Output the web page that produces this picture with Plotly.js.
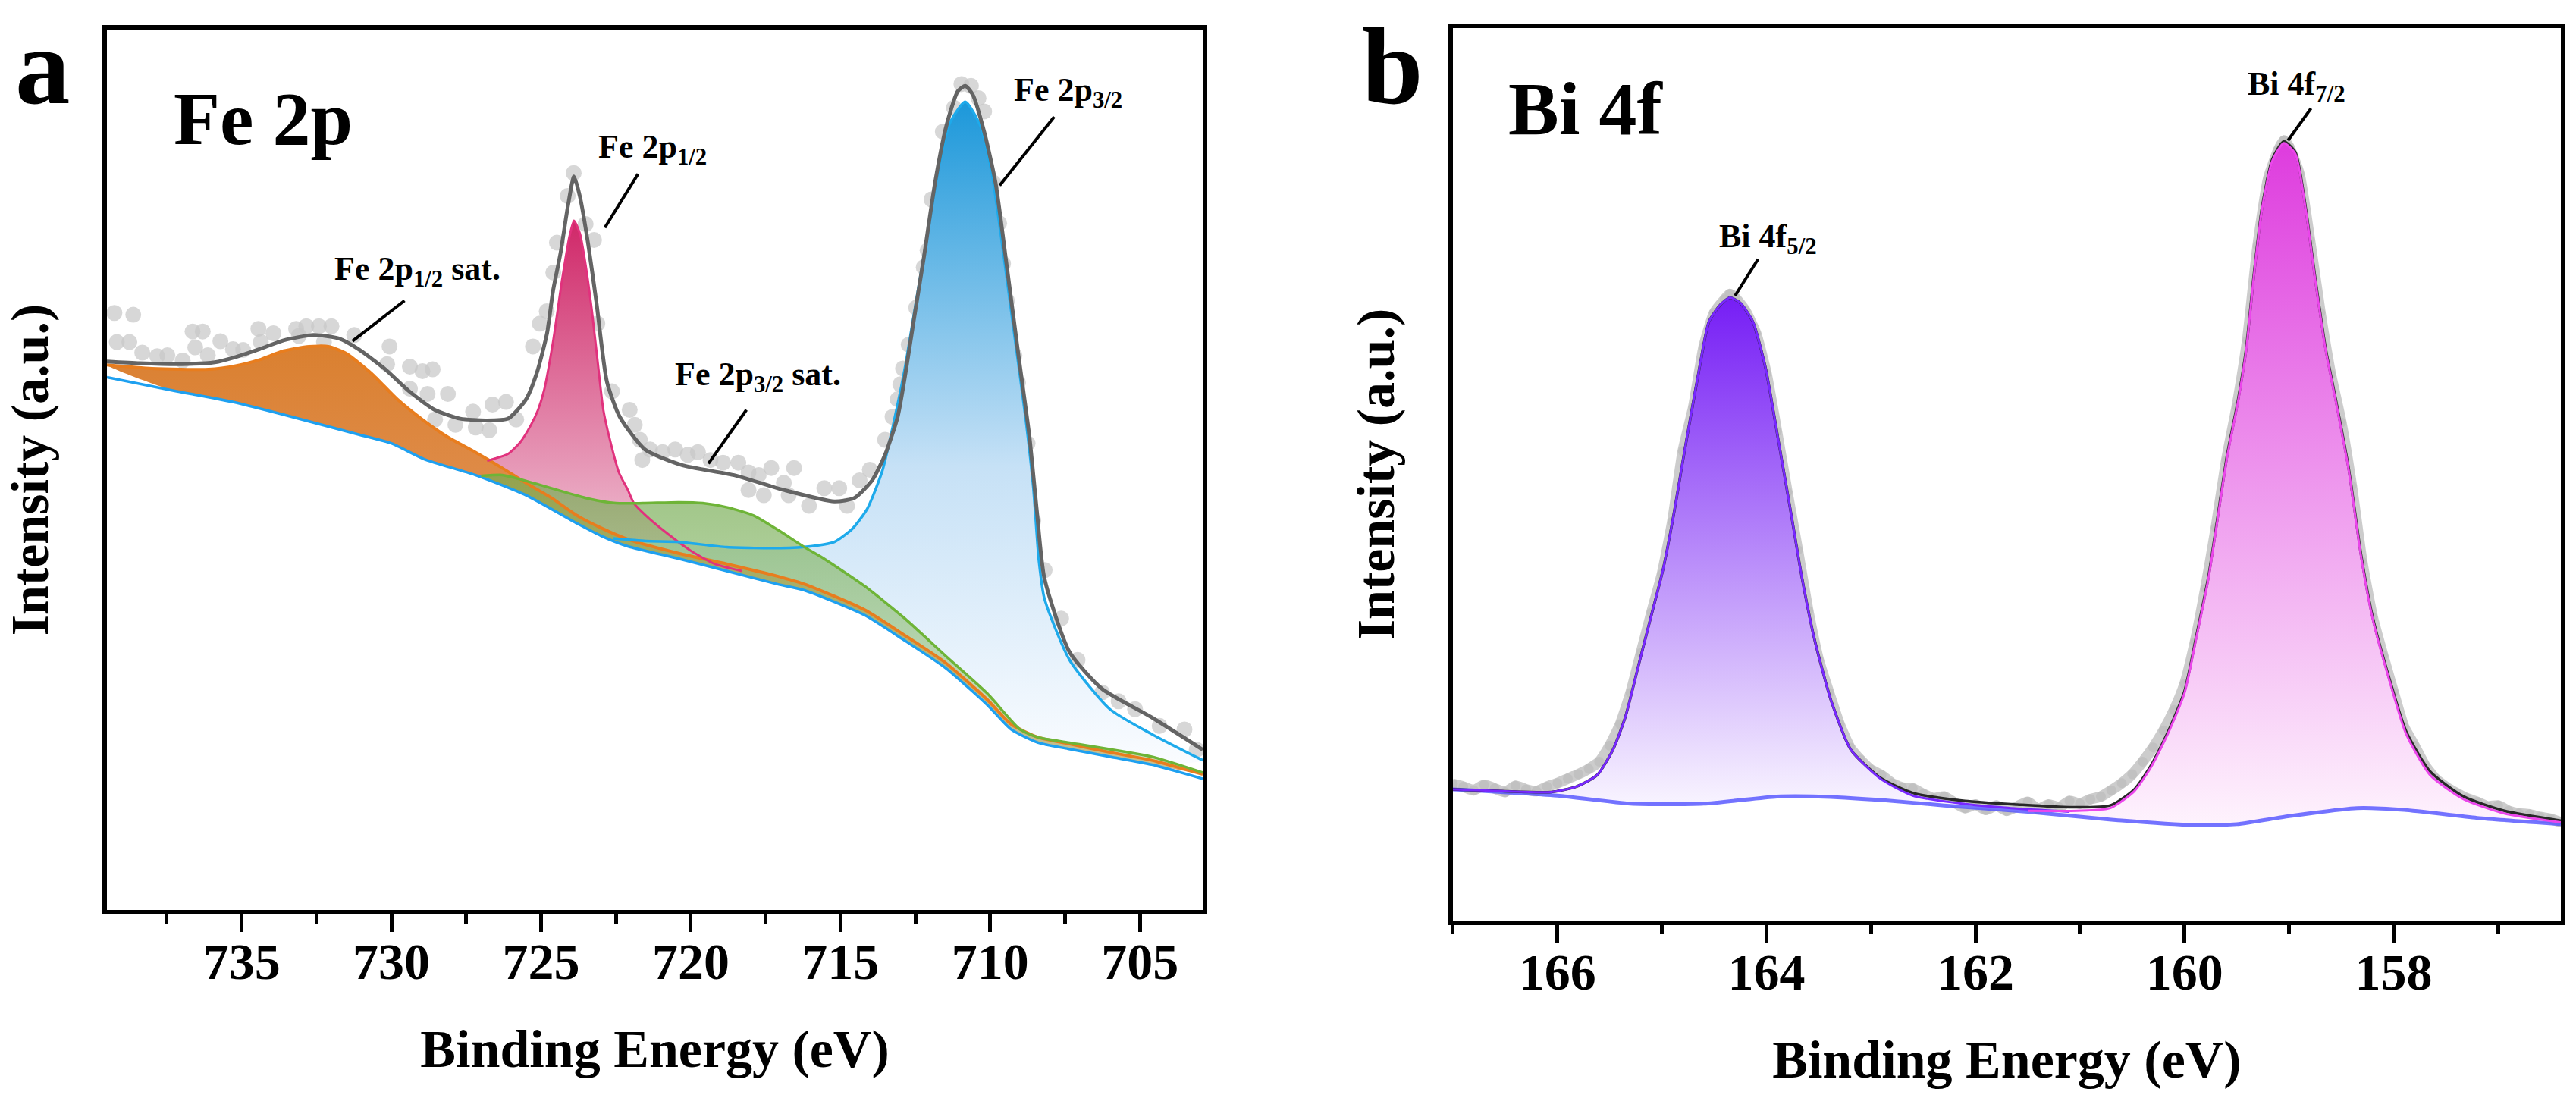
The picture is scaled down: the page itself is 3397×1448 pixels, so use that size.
<!DOCTYPE html>
<html>
<head>
<meta charset="utf-8">
<script src="https://cdn.plot.ly/plotly-3.0.1.min.js"></script>
<style>html,body{margin:0;padding:0;background:#fff;}#chart{width:3397px;height:1448px;}</style>
</head>
<body>
<div id="chart"></div>
<script>
// ---------- Panel a : Fe 2p (binding energy eV, intensity a.u.) ----------
const feBaseE = [739.5, 737.3, 735.3, 733.2, 731.1, 730.0, 728.9, 727.2, 725.5, 723.8, 723.0, 722.1, 720.4, 718.8, 717.1, 716.2, 714.2, 712.9, 711.5, 710.1, 709.3, 708.4, 707.4, 706.0, 704.6, 702.9];
const feBaseI = [60.5, 59.0, 57.7, 55.9, 54.0, 53.0, 51.2, 49.4, 47.1, 43.9, 42.5, 41.3, 39.9, 38.5, 37.0, 36.3, 33.5, 30.7, 27.5, 23.3, 20.5, 19.0, 18.3, 17.4, 16.5, 14.9];

const feSat12E = [739.5, 738.0, 736.1, 735.2, 734.4, 733.6, 732.75, 732.1, 731.5, 730.65, 729.8, 728.96, 728.11, 727.2, 726.3, 725.5, 724.65, 723.8, 723.0, 722.1, 720.4, 718.8, 717.1, 716.2, 714.2, 712.9, 711.5, 710.1, 709.3, 708.4, 707.4, 706.0, 704.6, 702.9];
const feSat12I = [61.9, 61.5, 61.4, 61.8, 62.5, 63.5, 64.0, 64.0, 63.2, 60.9, 58.0, 55.7, 53.7, 52.0, 50.2, 48.5, 46.8, 44.8, 43.4, 42.1, 40.5, 39.3, 37.9, 37.0, 34.1, 31.3, 28.1, 23.9, 21.1, 19.6, 18.9, 17.9, 17.0, 15.4];

const fe12E = [726.8, 726.1, 725.7, 725.35, 725.1, 724.9, 724.6, 724.3, 724.05, 723.9, 723.7, 723.5, 723.3, 723.1, 722.92, 722.7, 722.4, 722.1, 721.9, 721.5, 720.8, 720.0, 719.2, 718.3];
const fe12I = [51.0, 51.8, 53.1, 55.0, 56.8, 59.0, 64.5, 71.5, 76.5, 78.3, 76.8, 73.0, 68.0, 62.0, 56.8, 53.4, 49.7, 47.7, 46.2, 44.8, 42.8, 40.8, 39.3, 38.5];

const feSat32E = [727.0, 726.3, 725.9, 724.65, 723.4, 722.5, 721.6, 720.4, 719.6, 718.75, 717.9, 717.06, 716.2, 715.6, 714.2, 712.85, 711.5, 710.1, 709.0, 708.4, 707.35, 704.6, 702.9];
const feSat32I = [49.3, 49.4, 49.1, 47.9, 46.7, 46.2, 46.2, 46.3, 46.2, 45.7, 44.8, 43.1, 41.2, 40.0, 36.8, 33.1, 28.9, 24.6, 20.5, 19.6, 19.0, 17.4, 15.6];

const fe32E = [722.6, 721.5, 720.4, 718.8, 717.0, 716.0, 715.2, 714.6, 714.1, 713.6, 713.2, 712.85, 712.47, 712.09, 711.71, 711.33, 710.83, 710.33, 709.95, 709.57, 709.19, 708.81, 708.56, 708.37, 708.19, 707.35, 706.0, 704.62, 702.9];
const fe32I = [42.2, 41.9, 41.8, 41.2, 41.1, 41.3, 41.8, 43.3, 45.6, 49.9, 55.7, 61.5, 69.2, 76.8, 84.5, 89.5, 91.8, 89.1, 83.8, 74.9, 65.3, 55.7, 48.0, 39.6, 35.4, 28.4, 22.8, 20.0, 17.0];

const feFitE = [739.5, 738.4, 737.0, 735.9, 735.2, 734.4, 733.6, 732.6, 731.75, 731.1, 730.2, 729.4, 728.55, 727.7, 726.85, 726.1, 725.5, 725.15, 724.8, 724.6, 724.35, 724.1, 723.9, 723.7, 723.42, 723.15, 722.8, 722.37, 721.53, 720.27, 718.58, 716.89, 715.2, 714.53, 713.94, 713.51, 713.09, 712.85, 712.55, 712.22, 711.84, 711.46, 711.08, 710.83, 710.58, 710.2, 709.82, 709.44, 709.07, 708.69, 708.44, 708.19, 707.35, 706.26, 704.62, 702.9];
const feFitI = [62.3, 62.1, 62.0, 62.2, 62.8, 63.7, 64.7, 65.3, 64.9, 63.7, 61.4, 58.9, 56.8, 55.8, 55.6, 55.8, 58.0, 60.9, 65.5, 70.3, 74.6, 80.0, 83.3, 81.0, 75.5, 69.0, 60.0, 56.0, 52.3, 50.5, 49.4, 47.7, 46.4, 46.8, 48.8, 51.7, 56.0, 60.5, 67.0, 74.0, 82.6, 89.1, 93.0, 93.6, 92.6, 88.4, 82.6, 73.0, 63.4, 53.8, 45.3, 37.7, 29.3, 25.1, 21.9, 18.2];

const feRawE = [739.25, 738.62, 739.17, 738.75, 738.32, 737.82, 737.48, 736.97, 736.64, 736.30, 736.55, 736.13, 735.71, 735.29, 734.95, 734.44, 733.94, 734.36, 733.18, 732.84, 732.42, 732.00, 733.09, 732.25, 731.24, 730.06, 730.14, 729.38, 728.96, 728.62, 728.11, 728.79, 729.38, 727.27, 727.86, 728.54, 727.18, 726.62, 726.17, 726.73, 725.83, 725.27, 725.04, 724.81, 724.59, 724.47, 723.91, 724.11, 723.51, 723.23, 723.12, 722.63, 722.04, 721.87, 721.70, 721.62, 721.36, 720.94, 720.52, 720.10, 719.76, 719.34, 718.92, 718.41, 718.07, 717.73, 717.31, 716.55, 718.07, 717.56, 716.89, 716.73, 716.05, 715.54, 715.04, 714.78, 714.36, 714.02, 713.51, 713.26, 713.09, 713.00, 712.91, 712.72, 712.47, 712.22, 712.09, 711.96, 711.58, 711.21, 710.96, 710.64, 710.39, 710.20, 709.89, 709.70, 709.57, 709.44, 709.19, 709.07, 708.75, 708.88, 708.56, 708.73, 708.18, 707.63, 707.08, 706.26, 705.71, 705.16, 705.99, 704.34, 703.51, 703.10];
const feRawI = [67.8, 67.6, 64.5, 64.5, 63.3, 62.9, 63.0, 62.4, 65.7, 65.7, 63.9, 63.0, 64.6, 63.7, 63.6, 66.0, 65.5, 64.5, 66.0, 66.3, 66.3, 66.3, 65.2, 64.5, 65.3, 64.0, 62.0, 61.7, 61.2, 61.4, 58.6, 58.6, 59.2, 56.6, 55.1, 55.7, 54.8, 57.4, 57.7, 54.5, 55.7, 64.0, 66.6, 68.0, 72.4, 75.8, 83.7, 81.1, 77.9, 76.1, 66.6, 58.9, 56.8, 55.1, 53.4, 51.1, 52.3, 52.0, 52.3, 51.7, 52.0, 51.1, 50.8, 50.8, 49.7, 49.4, 50.2, 50.2, 47.7, 47.1, 48.5, 47.1, 45.9, 47.9, 47.9, 45.9, 48.8, 50.0, 53.4, 56.0, 58.0, 59.7, 61.5, 64.2, 68.4, 73.0, 74.9, 80.7, 88.4, 91.1, 93.8, 93.6, 92.2, 90.7, 82.6, 78.0, 73.4, 69.2, 63.0, 59.9, 53.0, 46.1, 44.2, 46.1, 38.6, 33.1, 28.4, 24.7, 23.7, 22.8, 21.9, 20.9, 20.5, 18.2];

// ---------- Panel b : Bi 4f ----------
const biBaseE = [167.0, 166.0, 165.3, 164.6, 163.9, 163.5, 162.9, 162.3, 161.5, 160.7, 159.9, 159.5, 159.0, 158.35, 157.9, 157.2, 156.4];
const biBaseI = [14.7, 14.0, 13.1, 13.1, 13.9, 13.9, 13.5, 12.9, 12.2, 11.3, 10.7, 10.8, 11.7, 12.6, 12.4, 11.5, 10.8];

const bi52E = [167.0, 166.53, 166.06, 165.82, 165.62, 165.47, 165.35, 165.23, 165.11, 164.99, 164.89, 164.80, 164.72, 164.64, 164.55, 164.44, 164.35, 164.25, 164.13, 164.01, 163.89, 163.76, 163.66, 163.54, 163.38, 163.19, 162.91, 162.60, 162.13, 161.66, 161.10];
const bi52I = [14.7, 14.5, 14.4, 15.0, 16.3, 19.1, 22.8, 28.3, 33.8, 39.3, 45.3, 51.5, 56.8, 62.0, 67.1, 69.0, 69.8, 69.2, 67.1, 62.0, 54.1, 45.3, 38.4, 31.5, 24.6, 19.1, 15.9, 14.0, 13.1, 12.6, 12.2];

const bi72E = [161.5, 161.03, 160.71, 160.48, 160.32, 160.16, 160.0, 159.89, 159.77, 159.65, 159.59, 159.49, 159.41, 159.34, 159.26, 159.16, 159.05, 158.94, 158.84, 158.75, 158.65, 158.55, 158.43, 158.31, 158.2, 158.04, 157.88, 157.65, 157.33, 156.94, 156.4];
const bi72I = [12.3, 12.3, 12.6, 14.5, 17.2, 20.9, 25.5, 31.5, 38.4, 47.6, 52.1, 58.0, 63.9, 71.8, 79.6, 85.1, 87.1, 85.9, 79.6, 71.8, 63.9, 58.0, 50.5, 40.7, 33.8, 26.9, 20.9, 16.3, 13.6, 12.0, 11.0];

const biFitE = [167.0, 166.53, 166.06, 165.82, 165.62, 165.47, 165.35, 165.23, 165.11, 164.99, 164.89, 164.80, 164.72, 164.64, 164.55, 164.44, 164.35, 164.25, 164.13, 164.01, 163.89, 163.76, 163.66, 163.54, 163.38, 163.19, 162.91, 162.6, 162.1, 161.6, 161.1, 160.71, 160.48, 160.32, 160.16, 160.0, 159.89, 159.77, 159.65, 159.59, 159.49, 159.41, 159.34, 159.26, 159.16, 159.05, 158.94, 158.84, 158.75, 158.65, 158.55, 158.43, 158.31, 158.2, 158.04, 157.88, 157.65, 157.33, 156.94, 156.4];
const biFitI = [14.7, 14.5, 14.4, 15.0, 16.3, 19.1, 22.8, 28.3, 33.8, 39.3, 45.3, 51.5, 56.8, 62.0, 67.1, 69.0, 69.8, 69.2, 67.1, 62.0, 54.1, 45.3, 38.4, 31.5, 24.6, 19.1, 16.0, 14.3, 13.4, 13.0, 12.7, 12.9, 14.7, 17.4, 21.1, 25.7, 31.7, 38.6, 47.8, 52.3, 58.2, 64.1, 72.0, 79.8, 85.3, 87.3, 86.1, 79.8, 72.0, 64.1, 58.2, 50.7, 40.9, 34.0, 27.1, 21.2, 16.7, 13.9, 12.3, 11.2];

const biRawE = [167.0, 166.9, 166.8, 166.7, 166.6, 166.5, 166.4, 166.3, 166.2, 166.1, 166.0, 165.9, 165.8, 165.7, 165.6, 165.5, 165.4, 165.3, 165.2, 165.1, 165.0, 164.9, 164.8, 164.7, 164.6, 164.5, 164.4, 164.35, 164.3, 164.2, 164.1, 164.0, 163.9, 163.8, 163.7, 163.6, 163.5, 163.4, 163.3, 163.2, 163.1, 163.0, 162.9, 162.8, 162.7, 162.6, 162.5, 162.4, 162.3, 162.2, 162.1, 162.0, 161.9, 161.8, 161.7, 161.6, 161.5, 161.4, 161.3, 161.2, 161.1, 161.0, 160.9, 160.8, 160.7, 160.6, 160.5, 160.4, 160.3, 160.2, 160.1, 160.0, 159.9, 159.8, 159.7, 159.6, 159.5, 159.4, 159.3, 159.2, 159.1, 159.05, 159.0, 158.9, 158.8, 158.7, 158.6, 158.5, 158.4, 158.3, 158.2, 158.1, 158.0, 157.9, 157.8, 157.7, 157.6, 157.5, 157.4, 157.3, 157.2, 157.1, 157.0, 156.9, 156.8, 156.7, 156.6, 156.5, 156.4];
const biRawI = [15.3, 15.0, 14.6, 15.2, 14.8, 14.4, 15.1, 14.7, 14.5, 15.0, 15.4, 15.9, 16.4, 17.0, 17.8, 19.6, 22.0, 25.5, 30.0, 34.5, 38.8, 44.7, 52.6, 57.5, 64.3, 68.1, 69.6, 70.2, 69.8, 68.3, 65.8, 61.3, 54.8, 48.0, 41.5, 34.7, 29.2, 25.5, 22.0, 19.4, 18.0, 16.9, 16.3, 15.4, 14.9, 14.8, 14.2, 13.7, 13.9, 13.2, 12.6, 13.0, 12.4, 12.9, 12.3, 12.8, 13.3, 12.5, 13.0, 12.7, 13.4, 13.1, 13.6, 13.9, 14.6, 15.4, 16.4, 17.8, 19.4, 21.3, 23.6, 26.5, 31.2, 37.2, 44.0, 51.6, 57.6, 65.0, 75.6, 83.1, 86.4, 87.4, 86.7, 83.6, 76.2, 68.1, 61.2, 55.8, 48.7, 40.2, 34.0, 29.7, 25.6, 21.7, 19.6, 17.4, 15.9, 15.0, 14.3, 13.7, 13.3, 12.8, 12.9, 12.3, 12.0, 11.9, 11.6, 11.4, 11.0];

// ---------- text ----------
const xTitle = 'Binding Energy (eV)';
const yTitle = 'Intensity (a.u.)';

// ---------- helpers ----------
const FONT = 'Liberation Serif, Times New Roman, serif';
function polygon(cx, cy, bx, by) {
  const hi = Math.max(cx[0], cx[cx.length - 1]);
  const lo = Math.min(cx[0], cx[cx.length - 1]);
  const px = cx.slice(), py = cy.slice();
  for (let i = bx.length - 1; i >= 0; i--) {
    if (bx[i] > lo && bx[i] < hi) { px.push(bx[i]); py.push(by[i]); }
  }
  px.push(cx[0]); py.push(cy[0]);
  return {x: px, y: py};
}
function fillTrace(cx, cy, bx, by, scale, xa, ya) {
  const p = polygon(cx, cy, bx, by);
  return {x: p.x, y: p.y, xaxis: xa, yaxis: ya, type: 'scatter', mode: 'lines',
    fill: 'toself', line: {width: 0, shape: 'spline', smoothing: 0.6},
    fillgradient: {type: 'vertical', colorscale: scale}, hoverinfo: 'skip'};
}
function lineTrace(x, y, color, width, xa, ya) {
  return {x: x, y: y, xaxis: xa, yaxis: ya, type: 'scatter', mode: 'lines',
    line: {color: color, width: width, shape: 'spline', smoothing: 0.6}, hoverinfo: 'skip'};
}

const traces = [
  // panel a
  {x: feRawE, y: feRawI, type: 'scatter', mode: 'markers', xaxis: 'x', yaxis: 'y',
   marker: {size: 21, color: 'rgba(200,200,200,0.72)', line: {width: 0}}},
  fillTrace(fe12E, fe12I, feBaseE, feBaseI, [[0, 'rgb(240,200,216)'], [1, 'rgb(208,40,105)']], 'x', 'y'),
  fillTrace(fe32E, fe32I, feBaseE, feBaseI, [[0, 'rgb(250,252,255)'], [0.45, 'rgb(198,225,246)'], [1, 'rgb(28,152,218)']], 'x', 'y'),
  fillTrace(feSat12E, feSat12I, feBaseE, feBaseI, [[0, 'rgb(228,160,115)'], [0.6, 'rgb(224,142,78)'], [1, 'rgb(218,128,48)']], 'x', 'y'),
  fillTrace(feSat32E, feSat32I, feBaseE, feBaseI, [[0, 'rgba(180,212,165,0.6)'], [1, 'rgba(118,172,82,0.72)']], 'x', 'y'),
  lineTrace(feBaseE, feBaseI, 'rgb(30,160,240)', 3.5, 'x', 'y'),
  lineTrace(feSat12E, feSat12I, 'rgb(232,125,30)', 4, 'x', 'y'),
  lineTrace(fe12E, fe12I, 'rgb(225,50,125)', 3, 'x', 'y'),
  lineTrace(fe32E, fe32I, 'rgb(30,170,235)', 3.5, 'x', 'y'),
  lineTrace(feSat32E, feSat32I, 'rgb(110,180,55)', 3.5, 'x', 'y'),
  lineTrace(feFitE, feFitI, 'rgb(100,100,100)', 5, 'x', 'y'),
  // panel b
  {x: biRawE, y: biRawI, type: 'scatter', mode: 'lines+markers', xaxis: 'x2', yaxis: 'y2',
   line: {color: 'rgba(195,195,195,0.85)', width: 14, shape: 'spline', smoothing: 0.5},
   marker: {size: 13, color: 'rgba(190,190,190,0.8)'}},
  fillTrace(bi52E, bi52I, biBaseE, biBaseI, [[0, 'rgb(250,247,255)'], [1, 'rgb(118,30,245)']], 'x2', 'y2'),
  fillTrace(bi72E, bi72I, biBaseE, biBaseI, [[0, 'rgb(254,243,253)'], [1, 'rgb(222,60,222)']], 'x2', 'y2'),
  lineTrace(biBaseE, biBaseI, 'rgba(80,80,255,0.8)', 5, 'x2', 'y2'),
  lineTrace(biFitE, biFitI, 'rgb(40,40,40)', 3.5, 'x2', 'y2'),
  lineTrace(bi52E, bi52I, 'rgb(120,40,255)', 3, 'x2', 'y2'),
  lineTrace(bi72E, bi72I, 'rgb(235,70,235)', 3, 'x2', 'y2')
];

const tickFont = {family: FONT, size: 68, weight: 'bold', color: 'black'};
const titleFont = {family: FONT, size: 70, weight: 'bold', color: 'black'};
function xAxis(domain, range, dtick, tick0, minorDtick) {
  return {domain: domain, range: range, autorange: false, showline: true, mirror: true,
    linewidth: 6, linecolor: 'black', ticks: 'outside', ticklen: 23, tickwidth: 5, tickcolor: 'black',
    dtick: dtick, tick0: tick0, tickfont: tickFont, showgrid: false, zeroline: false,
    ticklabelstandoff: -20,
    minor: {ticks: 'outside', ticklen: 12, tickwidth: 5, tickcolor: 'black', dtick: minorDtick, tick0: tick0, showgrid: false},
    title: {text: xTitle, font: titleFont, standoff: 55}};
}
function yAxis(domain, anchor) {
  return {domain: domain, range: [0, 100], autorange: false, showline: true, mirror: true,
    linewidth: 6, linecolor: 'black', ticks: '', showticklabels: false, showgrid: false, zeroline: false,
    anchor: anchor, title: {text: yTitle, font: titleFont, standoff: 50}};
}

const labFont = {family: FONT, size: 44, weight: 'bold', color: 'black'};
function peakLabel(text, x, y, xr, yr) {
  return {text: text, x: x, y: y, xref: xr, yref: yr, xanchor: 'left', yanchor: 'middle',
    showarrow: false, font: labFont};
}
function pointer(x0, y0, x1, y1, xr, yr) {
  return {type: 'line', xref: xr, yref: yr, x0: x0, y0: y0, x1: x1, y1: y1,
    line: {color: 'black', width: 4}};
}

const layout = {
  width: 3397, height: 1448, margin: {l: 0, r: 0, t: 0, b: 0},
  paper_bgcolor: 'white', plot_bgcolor: 'white', showlegend: false, hovermode: false,
  xaxis: xAxis([0.0415, 0.4669], [739.5, 702.9], 5, 705, 2.5),
  yaxis: yAxis([0.1713, 0.9731], 'x'),
  xaxis2: Object.assign(xAxis([0.5640, 0.9941], [167.0, 156.4], 2, 166, 1), {anchor: 'y2'}),
  yaxis2: yAxis([0.1616, 0.9745], 'x2'),
  annotations: [
    {text: 'a', xref: 'paper', yref: 'paper', x: 0.0165, y: 0.9399, xanchor: 'center', yanchor: 'middle', showarrow: false,
     font: {family: FONT, size: 145, weight: 'bold', color: 'black'}},
    {text: 'b', xref: 'paper', yref: 'paper', x: 0.5405, y: 0.9399, xanchor: 'center', yanchor: 'middle', showarrow: false,
     font: {family: FONT, size: 145, weight: 'bold', color: 'black'}},
    {text: 'Fe 2p', xref: 'paper', yref: 'paper', x: 0.0668, y: 0.8916, xanchor: 'left', yanchor: 'middle', showarrow: false,
     font: {family: FONT, size: 100, weight: 'bold', color: 'black'}},
    {text: 'Bi 4f', xref: 'paper', yref: 'paper', x: 0.5849, y: 0.9006, xanchor: 'left', yanchor: 'middle', showarrow: false,
     font: {family: FONT, size: 100, weight: 'bold', color: 'black'}},
    peakLabel('Fe 2p<sub>1/2</sub> sat.', 731.94, 72.6, 'x', 'y'),
    peakLabel('Fe 2p<sub>1/2</sub>', 723.15, 86.4, 'x', 'y'),
    peakLabel('Fe 2p<sub>3/2</sub> sat.', 720.59, 60.6, 'x', 'y'),
    peakLabel('Fe 2p<sub>3/2</sub>', 709.25, 92.9, 'x', 'y'),
    peakLabel('Bi 4f<sub>5/2</sub>', 164.47, 76.4, 'x2', 'y2'),
    peakLabel('Bi 4f<sub>7/2</sub>', 159.41, 93.5, 'x2', 'y2')
  ],
  shapes: [
    pointer(729.56, 69.2, 731.30, 64.6, 'x', 'y'),
    pointer(721.76, 83.6, 722.87, 77.5, 'x', 'y'),
    pointer(718.14, 56.8, 719.41, 50.7, 'x', 'y'),
    pointer(707.86, 90.1, 709.68, 82.3, 'x', 'y'),
    pointer(164.08, 74.1, 164.30, 70.0, 'x2', 'y2'),
    pointer(158.79, 91.0, 159.01, 87.4, 'x2', 'y2')
  ]
};

Plotly.newPlot('chart', traces, layout, {displayModeBar: false, staticPlot: true});
</script>
</body>
</html>
